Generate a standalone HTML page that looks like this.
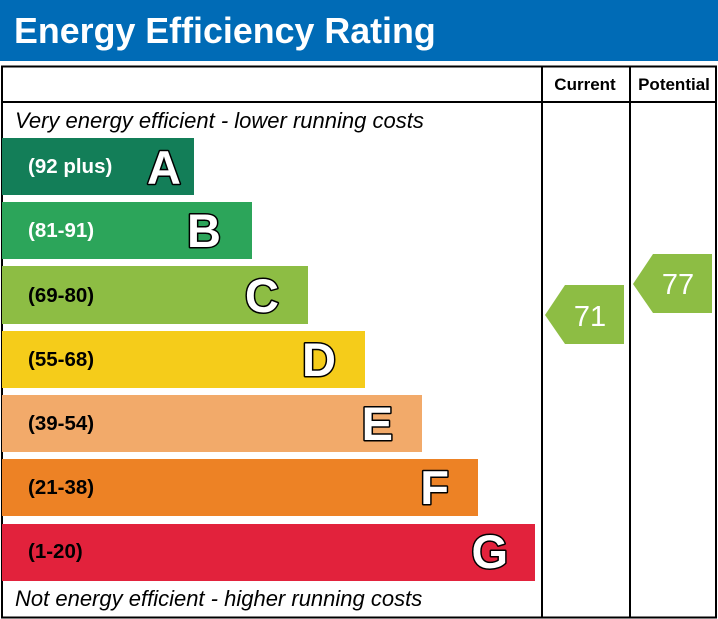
<!DOCTYPE html>
<html><head><style>body{margin:0;background:#fff}svg{display:block}</style></head><body>
<svg width="718" height="619" xmlns="http://www.w3.org/2000/svg" font-family="Liberation Sans, Arial, sans-serif">
<rect x="0" y="0" width="718" height="61" fill="#006bb6"/>
<text x="14" y="43" font-size="35.8" font-weight="bold" fill="#fff">Energy Efficiency Rating</text>
<rect x="2" y="66.5" width="714" height="551" fill="none" stroke="#000" stroke-width="2"/>
<line x1="2" y1="102" x2="716" y2="102" stroke="#000" stroke-width="2"/>
<line x1="542" y1="66" x2="542" y2="618" stroke="#000" stroke-width="2"/>
<line x1="630" y1="66" x2="630" y2="618" stroke="#000" stroke-width="2"/>
<text x="585" y="90" font-size="17" font-weight="bold" text-anchor="middle">Current</text>
<text x="674" y="90" font-size="17" font-weight="bold" text-anchor="middle">Potential</text>
<text x="15" y="128" font-size="22" font-style="italic">Very energy efficient - lower running costs</text>
<text x="15" y="606" font-size="22" font-style="italic">Not energy efficient - higher running costs</text>
<g font-weight="bold">
<rect x="2" y="138" width="192" height="57" fill="#137e58"/>
<text x="28" y="173" font-size="20.5" fill="#fff">(92 plus)</text>
<rect x="2" y="202" width="250" height="57" fill="#2ca55a"/>
<text x="28" y="237" font-size="20.5" fill="#fff">(81-91)</text>
<rect x="2" y="266" width="306" height="58" fill="#8dbd44"/>
<text x="28" y="302" font-size="20.5" fill="#000">(69-80)</text>
<rect x="2" y="331" width="363" height="57" fill="#f5cc1a"/>
<text x="28" y="366" font-size="20.5" fill="#000">(55-68)</text>
<rect x="2" y="395" width="420" height="57" fill="#f2aa6a"/>
<text x="28" y="430" font-size="20.5" fill="#000">(39-54)</text>
<rect x="2" y="459" width="476" height="57" fill="#ed8225"/>
<text x="28" y="494" font-size="20.5" fill="#000">(21-38)</text>
<rect x="2" y="524" width="533" height="57" fill="#e2223c"/>
<text x="28" y="558" font-size="20.5" fill="#000">(1-20)</text>
<g font-size="47" fill="#fff" stroke="#000" stroke-width="3" stroke-linejoin="round" text-anchor="end" paint-order="stroke">
<text x="181" y="184">A</text>
<text x="221" y="247">B</text>
<text x="279" y="312">C</text>
<text x="336" y="376">D</text>
<text x="393" y="440">E</text>
<text x="449" y="504">F</text>
<text x="508" y="568">G</text>
</g>
</g>
<polygon points="545,315 565,285 624,285 624,344 565,344" fill="#8dbd44"/>
<text x="590" y="326" font-size="29" fill="#fff" text-anchor="middle">71</text>
<polygon points="633,284 653,254 712,254 712,313 653,313" fill="#8dbd44"/>
<text x="678" y="294" font-size="29" fill="#fff" text-anchor="middle">77</text>
</svg>
</body></html>
